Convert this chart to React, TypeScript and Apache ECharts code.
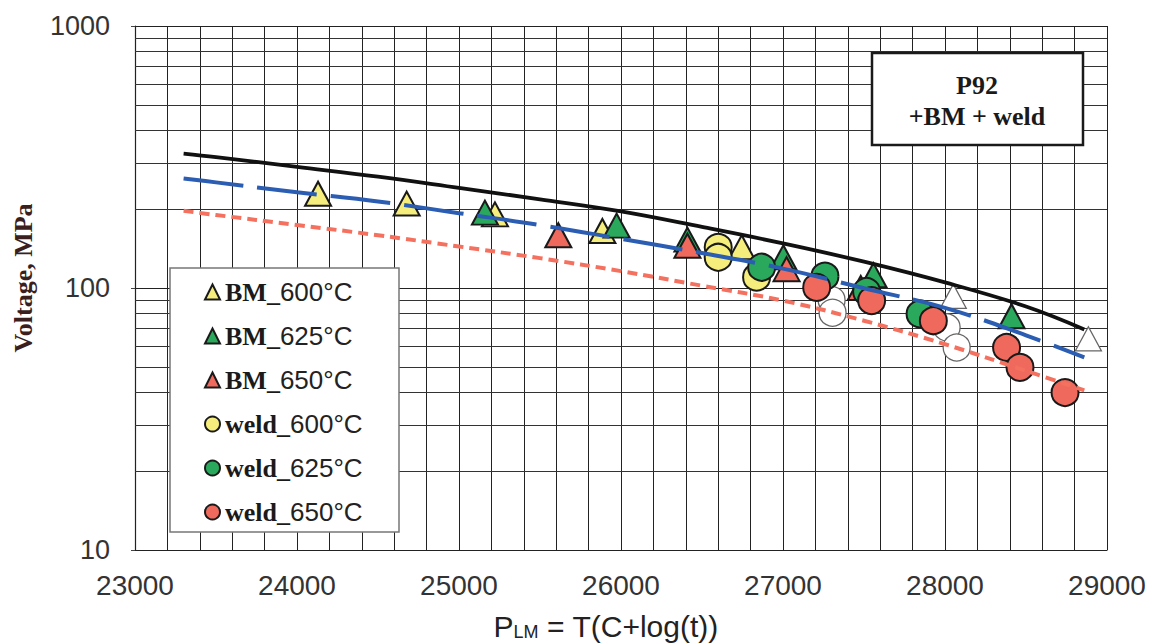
import React, { useEffect, useRef } from 'react';
import * as echarts from 'echarts';

// Larson-Miller parameter axis
const xTickLabels = [23000, 24000, 25000, 26000, 27000, 28000, 29000];
const yTickLabels = [10, 100, 1000];
const minorGridY = [20, 30, 40, 50, 60, 70, 80, 90, 200, 300, 400, 500, 600, 700, 800, 900];

// fitted master curves
const fitP = [23300, 23500, 24000, 24500, 25000, 25500, 26000, 26500, 27000, 27500, 28000, 28500, 28860];
const fitUpper = [326, 316, 290, 266, 241, 218, 196, 171, 148, 126, 105, 85, 69.5];
const fitBM = [262, 253, 232, 214, 193, 174, 154, 136, 118.6, 99.8, 84, 66, 54.3];
const fitWeld = [197, 190, 174, 159, 144, 130, 116, 102, 89.5, 75, 61, 48.3, 40.7];

// measured points
const bm600P = [24130, 24677, 25222, 25885, 26745];
const bm600S = [229, 210, 191, 165, 143];
const bm625P = [25160, 25973, 26410, 27002, 27558, 28411];
const bm625S = [194, 173, 153, 131, 112, 78];
const bm650P = [25613, 26410, 27022, 27480];
const bm650S = [159, 145, 118, 100];
const weld600P = [26600, 26600, 26837];
const weld600S = [143, 131, 110];
const weld625P = [26868, 27259, 27516, 27846];
const weld625S = [120, 111, 97, 79.6];
const weld650P = [27208, 27547, 27928, 28380, 28463, 28741];
const weld650S = [100.5, 89.5, 75, 59.3, 49.8, 39.9];
const openTriP = [28051, 28885];
const openTriS = [93, 64];
const openCircP = [27300, 27306, 28010, 28072];
const openCircS = [90, 80.5, 70.8, 59.3];

const legendNames = ['BM_600°C', 'BM_625°C', 'BM_650°C', 'weld_600°C', 'weld_625°C', 'weld_650°C'];

const pts = (xs: number[], ys: number[]) => xs.map((x, i) => [x, ys[i]]);

export default function App() {
  const ref = useRef<HTMLDivElement>(null);
  useEffect(() => {
    const chart = echarts.init(ref.current!, null, { renderer: 'svg' });
    const edge = '#1a1a1a';
    const tri = [26, 24];
    const circ = 27;
    const scatter = (name: string, symbol: string, color: string, xs: number[], ys: number[], size: any, border = edge, bw = 2) => ({
      name,
      type: 'scatter',
      symbol,
      symbolSize: size,
      data: pts(xs, ys),
      itemStyle: { color, borderColor: border, borderWidth: bw, opacity: 1 },
      z: 3,
      emphasis: { disabled: true },
    });
    const fitLine = (name: string, ys: number[], color: string, width: number, type: any) => ({
      name,
      type: 'line',
      data: pts(fitP, ys),
      showSymbol: false,
      symbol: 'none',
      smooth: 0.4,
      lineStyle: { color, width, type, cap: 'butt' },
      z: 6,
      silent: true,
    });

    chart.setOption({
      animation: false,
      backgroundColor: '#ffffff',
      grid: { left: 135, right: 46, top: 26, bottom: 94, containLabel: false },
      xAxis: {
        type: 'value',
        min: xTickLabels[0],
        max: xTickLabels[xTickLabels.length - 1],
        interval: 1000,
        axisLine: { show: true, onZero: false, lineStyle: { color: '#222', width: 1.2 } },
        axisTick: { show: false },
        minorTick: { show: false, splitNumber: 5 },
        splitLine: { show: true, lineStyle: { color: '#222', width: 1 } },
        minorSplitLine: { show: true, lineStyle: { color: '#222', width: 1 } },
        axisLabel: {
          fontFamily: 'Liberation Sans',
          fontSize: 28,
          color: '#333',
          margin: 21,
          formatter: (v: number) => String(v),
        },
      },
      yAxis: {
        type: 'log',
        logBase: 10,
        min: yTickLabels[0],
        max: yTickLabels[yTickLabels.length - 1],
        axisLine: { show: true, lineStyle: { color: '#222', width: 1.2 } },
        axisTick: { show: true, inside: false, length: 4, lineStyle: { color: '#444' } },
        splitLine: { show: true, lineStyle: { color: '#222', width: 1 } },
        axisLabel: {
          fontFamily: 'Liberation Sans',
          fontSize: 27,
          color: '#333',
          margin: 25,
          formatter: (v: number) => String(Math.round(v)),
        },
      },
      legend: {
        data: legendNames,
        orient: 'vertical',
        left: 204,
        top: 279,
        padding: 0,
        itemGap: 18,
        itemWidth: 15,
        itemHeight: 15,
        z: 20,
        selectedMode: false,
        formatter: (name: string) => {
          const i = name.indexOf('_');
          return `{s|${name.slice(0, i + 1)}}{n|${name.slice(i + 1)}}`;
        },
        textStyle: {
          rich: {
            s: { fontFamily: 'Liberation Serif', fontWeight: 'bold', fontSize: 26, color: '#1a1a1a', lineHeight: 26 },
            n: { fontFamily: 'Liberation Sans', fontSize: 26, color: '#222', lineHeight: 26 },
          },
        },
      },
      graphic: [
        {
          type: 'rect',
          z: 15,
          shape: { x: 170, y: 268, width: 229, height: 264 },
          style: { fill: '#ffffff', stroke: '#777', lineWidth: 1.5 },
          silent: true,
        },
        {
          type: 'rect',
          z: 15,
          shape: { x: 872, y: 53, width: 211, height: 92 },
          style: { fill: '#ffffff', stroke: '#1a1a1a', lineWidth: 2.5 },
          silent: true,
        },
        {
          type: 'text',
          z: 16,
          x: 977,
          y: 85,
          style: {
            text: 'P92',
            fontFamily: 'Liberation Serif',
            fontWeight: 'bold',
            fontSize: 26,
            fill: '#1a1a1a',
            align: 'center',
            verticalAlign: 'middle',
          },
        },
        {
          type: 'text',
          z: 16,
          x: 977,
          y: 116,
          style: {
            text: '+BM + weld',
            fontFamily: 'Liberation Serif',
            fontWeight: 'bold',
            fontSize: 26,
            fill: '#1a1a1a',
            align: 'center',
            verticalAlign: 'middle',
          },
        },
        {
          type: 'text',
          z: 16,
          x: 23,
          y: 278,
          rotation: Math.PI / 2,
          style: {
            text: 'Voltage, MPa',
            fontFamily: 'Liberation Serif',
            fontWeight: 'bold',
            fontSize: 26,
            fill: '#3b1f1f',
            align: 'center',
            verticalAlign: 'middle',
          },
        },
        {
          type: 'text',
          z: 16,
          x: 606,
          y: 626,
          style: {
            text: '{m|P}{sub|LM}{m| = T(C+log(t))}',
            align: 'center',
            verticalAlign: 'middle',
            rich: {
              m: { fontFamily: 'Liberation Sans', fontSize: 30, fill: '#222', lineHeight: 30 },
              sub: { fontFamily: 'Liberation Sans', fontSize: 18, fill: '#222', lineHeight: 18, verticalAlign: 'bottom' },
            },
          },
        },
      ],
      series: [
        {
          name: 'grid',
          type: 'line',
          data: [],
          silent: true,
          markLine: {
            silent: true,
            z: 1,
            symbol: ['none', 'none'],
            label: { show: false },
            lineStyle: { color: '#333', width: 1, type: 'solid' },
            emphasis: { disabled: true },
            data: minorGridY.map((v) => ({ yAxis: v })),
          },
        },
        scatter('open_tri', 'triangle', '#ffffff', openTriP, openTriS, tri, '#666', 1.3),
        scatter('open_circ', 'circle', '#ffffff', openCircP, openCircS, circ, '#666', 1.3),
        scatter('BM_600°C', 'triangle', '#f6ee7c', bm600P, bm600S, tri),
        scatter('BM_625°C', 'triangle', '#2aa85c', bm625P, bm625S, tri),
        scatter('BM_650°C', 'triangle', '#ef6a5c', bm650P, bm650S, tri),
        scatter('weld_600°C', 'circle', '#f6ee7c', weld600P, weld600S, circ),
        scatter('weld_625°C', 'circle', '#2aa85c', weld625P, weld625S, circ),
        scatter('weld_650°C', 'circle', '#ef6a5c', weld650P, weld650S, circ),
        fitLine('fit_upper', fitUpper, '#111111', 3.8, 'solid'),
        fitLine('fit_BM', fitBM, '#2b5db3', 4, [60, 14]),
        fitLine('fit_weld', fitWeld, '#f4715f', 4, [10, 6]),
      ],
    });
    return () => chart.dispose();
  }, []);
  return <div ref={ref} style={{ position: 'absolute', left: 0, top: 0, width: 1153, height: 644 }} />;
}
